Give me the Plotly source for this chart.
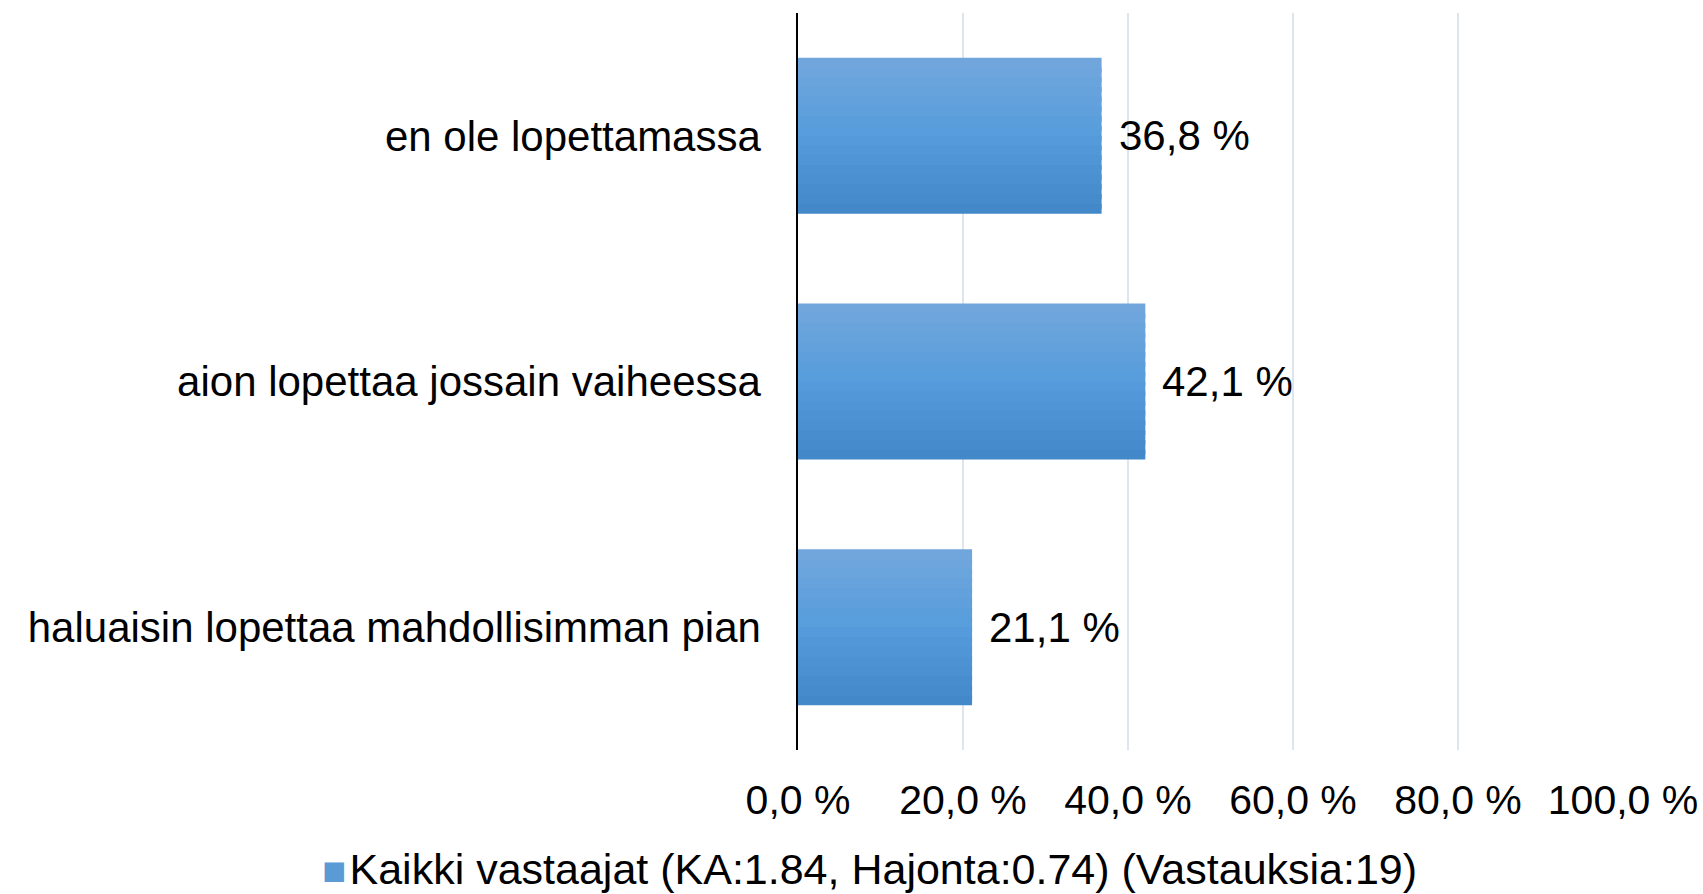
import plotly.graph_objects as go

categories = ["en ole lopettamassa", "aion lopettaa jossain vaiheessa", "haluaisin lopettaa mahdollisimman pian"]
values = [36.8, 42.1, 21.1]
value_labels = ["36,8 %", "42,1 %", "21,1 %"]
tick_vals = [0, 20, 40, 60, 80, 100]
tick_text = ["0,0 %", "20,0 %", "40,0 %", "60,0 %", "80,0 %", "100,0 %"]
legend_text = "Kaikki vastaajat (KA:1.84, Hajonta:0.74) (Vastauksia:19)"

FONT = "Liberation Sans"
BAR_W = 0.635
N = 16
top_c = (115, 167, 220)
mid_c = (86, 156, 220)
bot_c = (66, 136, 200)


def grad(t):
    # t: 0 top -> 1 bottom
    if t < 0.5:
        a, b, u = top_c, mid_c, t / 0.5
    else:
        a, b, u = mid_c, bot_c, (t - 0.5) / 0.5
    return "rgb(%d,%d,%d)" % tuple(round(a[i] + (b[i] - a[i]) * u) for i in range(3))


fig = go.Figure()
sw = BAR_W / N
for k in range(N):
    # reversed y axis: larger offset is lower on screen
    t = (k + 0.5) / N
    w = sw if k == N - 1 else sw * 1.5
    fig.add_trace(go.Bar(
        x=values, y=categories, orientation="h",
        width=[w] * len(values), offset=-BAR_W / 2 + k * sw,
        marker=dict(color=grad(t), line=dict(width=0)),
        showlegend=False, hoverinfo="skip",
    ))

for c, v, lab in zip(categories, values, value_labels):
    fig.add_annotation(x=v, y=c, text=lab, showarrow=False, xanchor="left",
                       xshift=15, font=dict(family=FONT, size=42, color="#000000"))

fig.add_annotation(xref="paper", yref="paper", x=0.087, y=-144 / 737,
                   text="<span style='color:#5B9BD5;font-size:40px'>■</span>"
                        "<span style='font-size:12px'> </span>" + legend_text,
                   showarrow=False, xanchor="center", yanchor="bottom", borderpad=0,
                   font=dict(family=FONT, size=43, color="#000000"))

fig.update_layout(
    width=1703, height=894,
    margin=dict(l=798, r=80, t=13, b=144, autoexpand=False),
    paper_bgcolor="white", plot_bgcolor="white",
    barmode="overlay", showlegend=False,
    font=dict(family=FONT, size=42, color="#000000"),
    xaxis=dict(range=[0, 100], tickvals=tick_vals, ticktext=tick_text,
               showgrid=True, gridcolor="#DFE5EF", gridwidth=1.5,
               zeroline=False, showline=False, ticks="", automargin=False,
               ticklabelstandoff=22, tickfont=dict(size=41)),
    yaxis=dict(autorange="reversed", showline=True, linecolor="#000000",
               linewidth=1.5, ticks="", ticklabelstandoff=27, automargin=False,
               showgrid=False, tickfont=dict(size=42)),
)

fig.write_html("out.html", config={"displayModeBar": False},
               post_script="document.body.style.margin='0';document.body.style.overflow='hidden';")
